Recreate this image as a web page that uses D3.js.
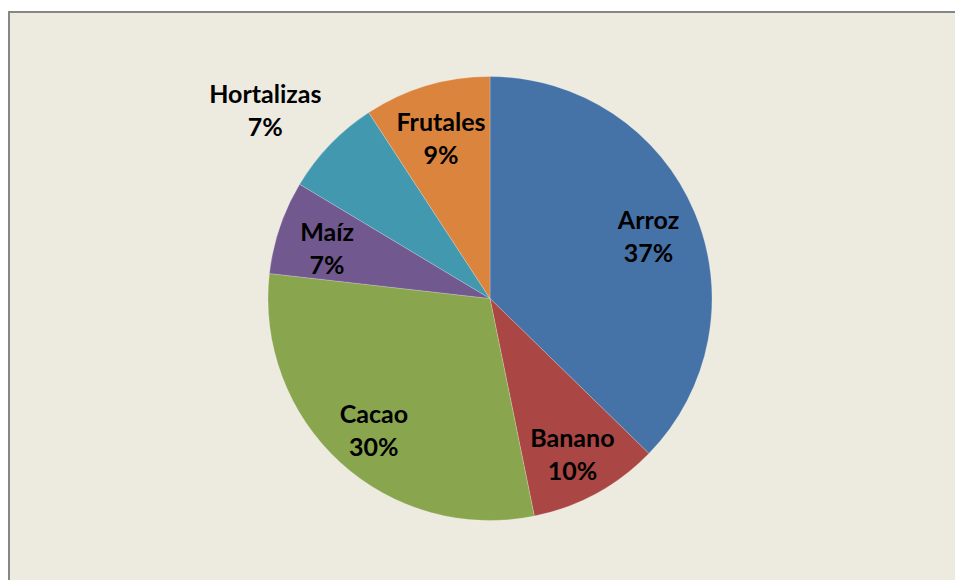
<!DOCTYPE html>
<html>
<head>
<meta charset="utf-8">
<script src="https://cdn.jsdelivr.net/npm/d3@7"></script>
<style>
  body { margin: 0; background: #fff; }
  svg { display: block; }
</style>
</head>
<body>
<div id="chart"></div>
<script>
// crops and their share (clockwise from 12 o'clock)
const crops = ['Arroz', 'Banano', 'Cacao', 'Maíz', 'Hortalizas', 'Frutales'];
const shares = [37.3, 9.5, 30.0, 6.8, 7.2, 9.2];
const colors = ['#4572A7', '#AA4643', '#89A54E', '#71588F', '#4198AF', '#DB843D'];

const width = 955;
const height = 580;
const cx = 490, cy = 298.5, radius = 222;

const svg = d3.select('#chart')
  .append('svg')
  .attr('width', width)
  .attr('height', height);

// chart area frame (right and bottom edges run off the picture)
svg.append('rect')
  .attr('x', 9)
  .attr('y', 12)
  .attr('width', width + 20)
  .attr('height', height + 20)
  .attr('fill', '#EDEAE0')
  .attr('stroke', '#868686')
  .attr('stroke-width', 2);

const data = crops.map((c, i) => ({name: c, value: shares[i], color: colors[i]}));
const total = d3.sum(shares);

const pie = d3.pie()
  .value(d => d.value)
  .sort(null);

const arc = d3.arc()
  .innerRadius(0)
  .outerRadius(radius);

const inLabel = d3.arc().innerRadius(172).outerRadius(172);
const edge = d3.arc().innerRadius(radius + 12).outerRadius(radius + 12);
const outside = ['Hortalizas'];

const g = svg.append('g')
  .attr('transform', `translate(${cx},${cy})`);

const arcs = pie(data);

g.selectAll('.slice')
  .data(arcs)
  .enter()
  .append('path')
  .attr('class', 'slice')
  .attr('d', arc)
  .attr('fill', d => d.data.color)
  .attr('stroke', 'rgba(255,255,255,0.35)')
  .attr('stroke-width', 0.6);

const label = g.selectAll('.label')
  .data(arcs)
  .enter()
  .append('text')
  .attr('class', 'label')
  .attr('text-anchor', 'middle')
  .style('font-family', 'Lato, "Open Sans", sans-serif')
  .style('font-weight', 'bold')
  .style('font-size', '25px')
  .style('fill', '#000');

label.append('tspan')
  .attr('class', 'name')
  .attr('x', 0)
  .attr('dy', d => outside.includes(d.data.name) ? -7.5 : -2.5)
  .text(d => d.data.name);

label.append('tspan')
  .attr('x', 0)
  .attr('dy', 33)
  .text(d => Math.round(d.data.value / total * 100) + '%');

// inside labels sit on the slice; outside ones hang off the rim, left of it
label.attr('transform', function(d) {
  if (outside.includes(d.data.name)) {
    const p = edge.centroid(d);
    const w = d3.select(this).select('.name').node().getComputedTextLength();
    return `translate(${p[0] - w / 2},${p[1] - 25.5})`;
  }
  const p = inLabel.centroid(d);
  return `translate(${p[0]},${p[1]})`;
});
</script>
</body>
</html>
